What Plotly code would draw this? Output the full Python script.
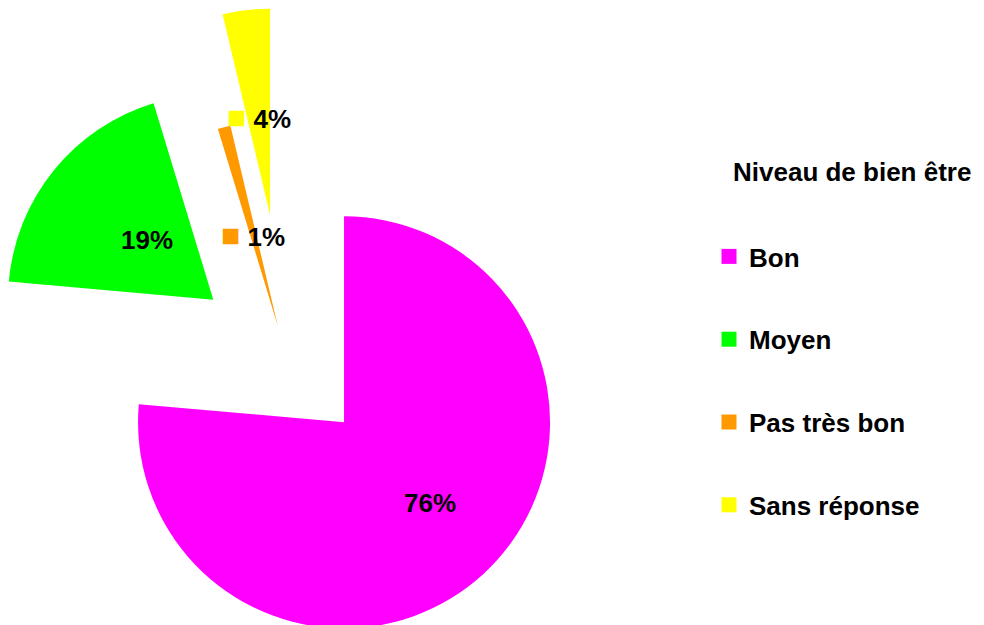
import math
import plotly.graph_objects as go

# ---- data ----
categories = ["Bon", "Moyen", "Pas très bon", "Sans réponse"]
values = [76.4, 18.9, 1.0, 3.7]
legend_title = "Niveau de bien être"

# ---- style ----
colors = ["#FF00FF", "#00FF00", "#FF9900", "#FFFF00"]
W, H = 984, 625
OFF = 8                      # page margin of the html body (px)
R = 206                      # pie radius in px
CENTER = (287, 360)          # un-exploded pie centre (screen px)
PULL = [0.41, 0.465, 0.17, 0.71]      # explosion of each slice (fraction of R)
LABEL_R = [0.57, 0.43, 0.46, 0.48]    # label distance from slice vertex (fraction of R)
LABEL_ROT = [-4.4, 3.1, 0.0, 0.0]     # label angular shift from bisector (deg)
KEYED_LABEL = [False, False, True, True]
FONT = "Liberation Sans, Arial, sans-serif"
TRANSPARENT = "rgba(0,0,0,0)"


def px_x(x):
    return (x - OFF) / W


def px_y(y):
    return 1 - (y - OFF) / H


total = sum(values)
fig = go.Figure()

cum = 0.0
annotations = []
for i, (cat, v) in enumerate(zip(categories, values)):
    mid = (cum + v / 2) / total * 2 * math.pi   # bisector, clockwise from 12 o'clock
    cum += v
    dx, dy = math.sin(mid), -math.cos(mid)
    vx = CENTER[0] + PULL[i] * R * dx
    vy = CENTER[1] + PULL[i] * R * dy
    dom_x = [max(0, px_x(vx - R)), min(1, px_x(vx + R))]
    dom_y = [max(0, px_y(vy + R)), min(1, px_y(vy - R))]
    slice_colors = [colors[j] if j == i else TRANSPARENT for j in range(len(values))]
    fig.add_trace(go.Pie(
        labels=categories, values=values, sort=False, direction="clockwise",
        rotation=0, domain=dict(x=dom_x, y=dom_y),
        marker=dict(colors=slice_colors, line=dict(width=0)),
        textinfo="none", hoverinfo="skip", showlegend=False,
    ))
    a = math.atan2(dy, dx) + math.radians(LABEL_ROT[i])
    lx = vx + LABEL_R[i] * R * math.cos(a)
    ly = vy + LABEL_R[i] * R * math.sin(a)
    pct = f"{round(v / total * 100):.0f}%"
    if KEYED_LABEL[i]:
        txt = f"<span style='color:{colors[i]};font-size:32px'>■</span> <b>{pct}</b>"
    else:
        txt = f"<b>{pct}</b>"
    annotations.append(dict(
        x=px_x(lx), y=px_y(ly), xref="paper", yref="paper", text=txt,
        showarrow=False, xanchor="center", yanchor="middle",
        font=dict(family=FONT, size=26, color="black"),
    ))

# legend title
annotations.append(dict(
    x=px_x(731), y=px_y(172), xref="paper", yref="paper",
    text=f"<b>{legend_title}</b>", showarrow=False,
    xanchor="left", yanchor="middle",
    font=dict(family=FONT, size=26, color="black"),
))

# legend entries (one group each, for the wide spacing)
for i, cat in enumerate(categories):
    fig.add_trace(go.Scatter(
        x=[None], y=[None], mode="markers", name=cat, legendgroup=cat,
        marker=dict(symbol="square", size=15, color=colors[i]),
        showlegend=True, hoverinfo="skip",
    ))

fig.update_layout(
    width=W, height=H,
    margin=dict(l=0, r=0, t=0, b=0),
    paper_bgcolor="white", plot_bgcolor="white",
    xaxis=dict(visible=False), yaxis=dict(visible=False),
    annotations=annotations,
    legend=dict(
        font=dict(family=FONT, size=26, color="black", weight="bold"),
        x=px_x(709), xanchor="left", y=px_y(233), yanchor="top",
        tracegroupgap=46, bgcolor="rgba(0,0,0,0)", borderwidth=0,
    ),
    showlegend=True,
)

fig.write_html("out.html")
